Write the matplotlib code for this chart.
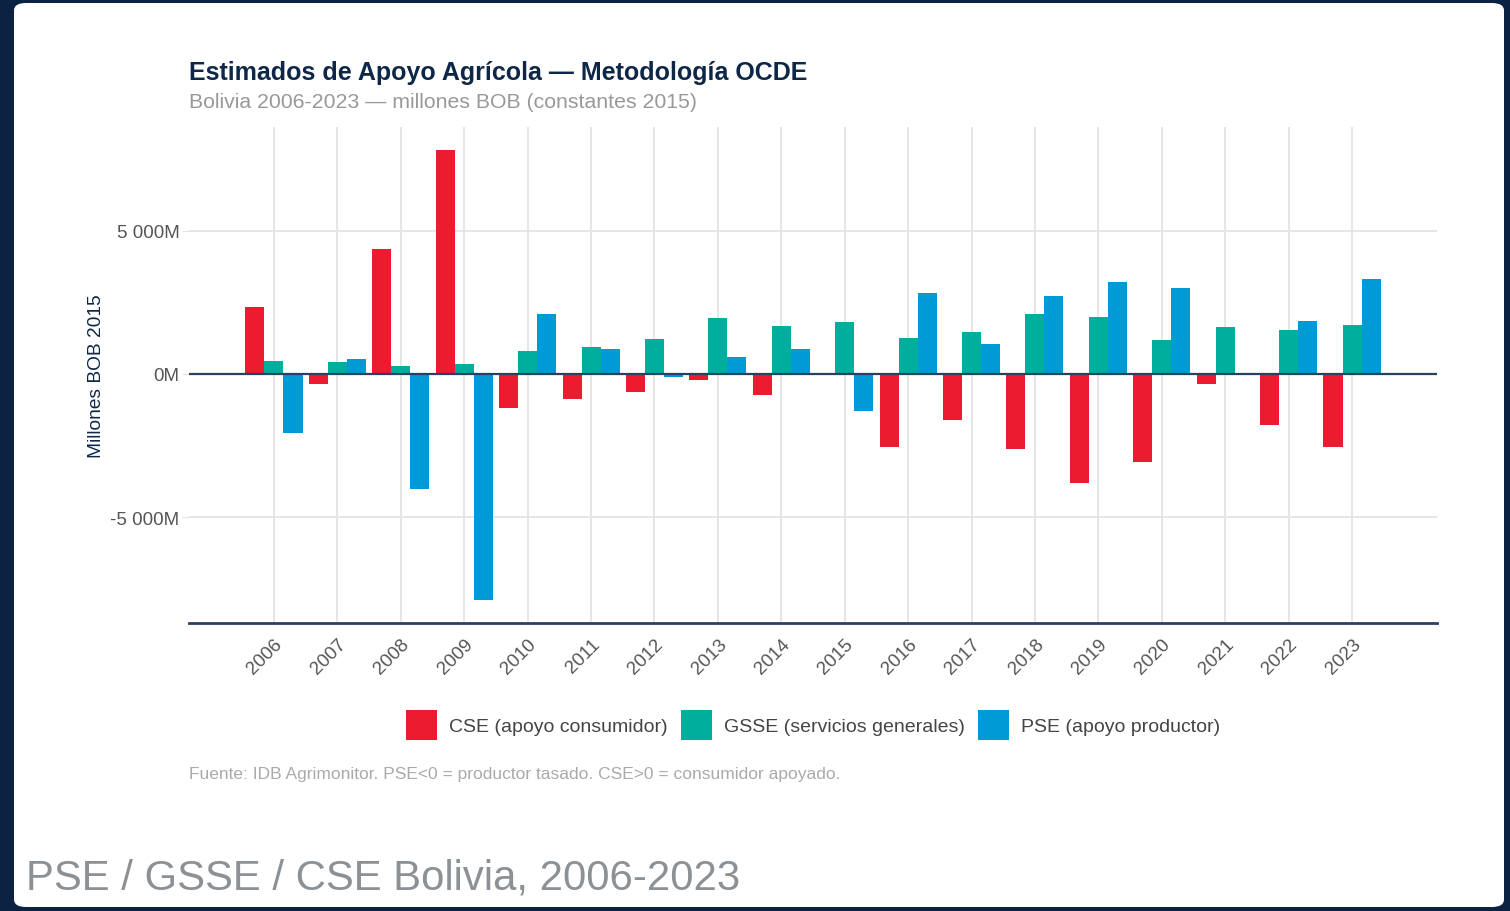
import matplotlib
matplotlib.use("Agg")
import matplotlib.pyplot as plt
import numpy as np
from matplotlib.patches import FancyBboxPatch, Patch

plt.rcParams['font.family'] = ['Liberation Sans', 'DejaVu Sans']

years = ["2006", "2007", "2008", "2009", "2010", "2011", "2012", "2013", "2014",
         "2015", "2016", "2017", "2018", "2019", "2020", "2021", "2022", "2023"]
cse = [2320, -340, 4345, 7815, -1175, -880, -650, -200, -755,
       0, -2545, -1600, -2635, -3800, -3090, -340, -1790, -2545]
gsse = [440, 405, 280, 335, 800, 930, 1220, 1965, 1670,
        1810, 1255, 1450, 2090, 2000, 1185, 1640, 1545, 1705]
pse = [-2055, 510, -4030, -7900, 2090, 860, -105, 590, 860,
       -1280, 2810, 1045, 2720, 3205, 2995, 45, 1835, 3320]

series_names = ["CSE (apoyo consumidor)", "GSSE (servicios generales)", "PSE (apoyo productor)"]
colors = ["#EC1B2F", "#00AE9E", "#009BD6"]
navy = "#0E2747"

W, H = 1510, 912
fig = plt.figure(figsize=(W / 100, H / 100), dpi=100)
fig.patch.set_facecolor("#0B2242")

card = FancyBboxPatch((14 / W, 4 / H), (1504 - 14) / W, (H - 8) / H,
                      boxstyle="round,pad=0,rounding_size=0.008",
                      transform=fig.transFigure, facecolor="white",
                      edgecolor="none", zorder=-10)
fig.patches.append(card)

ax = fig.add_axes([189 / W, 1 - 624 / H, (1437 - 189) / W, (624 - 128) / H])
ax.set_zorder(5)
ax.set_facecolor("white")

x = np.arange(len(years))
w = 0.3
for i, (vals, name, c) in enumerate(zip([cse, gsse, pse], series_names, colors)):
    ax.bar(x + (i - 1) * w, vals, width=w, color=c, label=name, zorder=3)

ax.set_xlim(-1.34, len(years) - 1 + 1.34)
ax.set_ylim(-8695, 8615)
ax.set_yticks([-5000, 0, 5000])
ax.set_yticklabels(["-5 000M", "0M", "5 000M"])
ax.set_xticks(x)
ax.set_xticklabels(years, rotation=45, ha="right", rotation_mode="anchor")

ax.grid(True, color="#E4E4E4", linewidth=1.3, zorder=0)
ax.axhline(0, color="#2B4060", linewidth=1.6, zorder=4)
for s in ["left", "right", "top"]:
    ax.spines[s].set_visible(False)
ax.spines["bottom"].set_color("#2B4060")
ax.spines["bottom"].set_linewidth(2)

ax.tick_params(axis="y", length=5, color="#E4E4E4", labelsize=13.5, labelcolor="#555555", pad=2)
ax.tick_params(axis="x", length=0, labelsize=13.5, labelcolor="#555555", pad=9)

ax.set_ylabel("Millones BOB 2015", fontsize=13.8, color=navy, labelpad=4)

fig.text(189 / W, 1 - 73 / H, "Estimados de Apoyo Agrícola — Metodología OCDE",
         fontsize=18, fontweight="bold", color=navy, va="center", ha="left")
fig.text(189 / W, 1 - 102 / H, "Bolivia 2006-2023 — millones BOB (constantes 2015)",
         fontsize=15.3, color="#999999", va="center", ha="left")

handles = [Patch(facecolor=c, edgecolor="none") for c in colors]
fig.legend(handles, series_names, loc="center", bbox_to_anchor=(813 / W, 1 - 726 / H),
           ncol=3, frameon=False, fontsize=14, handlelength=1.6, handleheight=2.0,
           columnspacing=0.7, handletextpad=0.6, labelcolor="#444444")

fig.text(189 / W, 1 - 775 / H,
         "Fuente: IDB Agrimonitor. PSE<0 = productor tasado. CSE>0 = consumidor apoyado.",
         fontsize=12.5, color="#AAAAAA", va="center", ha="left")

fig.text(26 / W, 1 - 879 / H, "PSE / GSSE / CSE Bolivia, 2006-2023",
         fontsize=30.2, color="#8C9196", va="center", ha="left")

fig.savefig("out.png", dpi=100, facecolor=fig.get_facecolor())
